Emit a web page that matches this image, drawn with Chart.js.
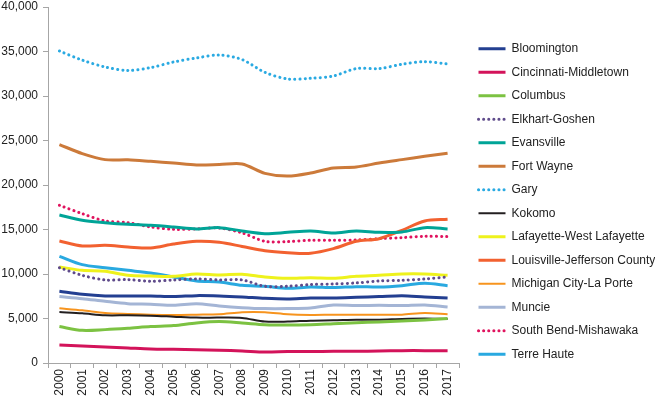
<!DOCTYPE html>
<html>
<head>
<meta charset="utf-8">
<script src="https://cdn.jsdelivr.net/npm/chart.js@4.4.1/dist/chart.umd.min.js"></script>
<style>
    html, body { margin: 0; padding: 0; background: #fff; }
    #wrap { width: 655px; height: 398px; }
</style>
</head>
<body>
<div id="wrap"><canvas id="wageChart"></canvas></div>
<script>
// Years on the x axis
const years = ['2000', '2001', '2002', '2003', '2004', '2005', '2006', '2007', '2008',
               '2009', '2010', '2011', '2012', '2013', '2014', '2015', '2016', '2017'];

// Series values
const bloomington  = [8060, 7720, 7530, 7530, 7530, 7460, 7570, 7530, 7420, 7270, 7200, 7310, 7310, 7380, 7460, 7570, 7420, 7310];
const cincinnati   = [2030, 1910, 1800, 1690, 1580, 1540, 1500, 1430, 1350, 1240, 1280, 1280, 1310, 1310, 1350, 1390, 1390, 1390];
const columbus     = [4090, 3670, 3750, 3900, 4090, 4200, 4500, 4650, 4500, 4310, 4270, 4310, 4420, 4530, 4610, 4720, 4840, 4990];
const elkhart      = [10710, 9850, 9330, 9370, 9180, 9330, 9440, 9330, 9330, 8620, 8620, 8810, 8880, 9000, 9220, 9290, 9440, 9670];
const evansville   = [16630, 16030, 15770, 15580, 15470, 15280, 15060, 15210, 14830, 14530, 14680, 14830, 14610, 14830, 14680, 14720, 15210, 15060];
const fortWayne    = [24540, 23530, 22850, 22830, 22660, 22470, 22250, 22290, 22360, 21310, 21010, 21350, 21910, 22020, 22470, 22850, 23220, 23560];
const gary         = [35060, 34030, 33260, 32870, 33190, 33820, 34270, 34610, 34090, 32660, 31910, 31990, 32250, 33080, 33080, 33560, 33860, 33600];
const kokomo       = [5730, 5580, 5360, 5360, 5320, 5210, 5100, 5100, 5060, 4650, 4650, 4760, 4800, 4870, 4870, 4950, 4990, 4950];
const lafayette    = [10790, 10410, 10300, 9850, 9780, 9740, 10000, 9890, 9970, 9670, 9520, 9590, 9520, 9740, 9850, 10000, 10000, 9850];
const louisville   = [13710, 13150, 13220, 13040, 12920, 13370, 13670, 13560, 13100, 12620, 12400, 12330, 12850, 13670, 13970, 14910, 15960, 16150];
const michiganCity = [6150, 5920, 5620, 5510, 5430, 5400, 5430, 5470, 5700, 5700, 5470, 5400, 5430, 5430, 5430, 5430, 5620, 5470];
const muncie       = [7460, 7230, 6930, 6670, 6600, 6480, 6670, 6410, 6220, 6110, 6110, 6180, 6520, 6450, 6480, 6450, 6520, 6300];
const southBend    = [17720, 16780, 15960, 15770, 15280, 15020, 15060, 15170, 14620, 13670, 13640, 13790, 13790, 13820, 13970, 14090, 14240, 14200];
const terreHaute   = [11990, 11050, 10710, 10410, 10110, 9670, 9220, 9100, 8730, 8620, 8390, 8540, 8470, 8580, 8540, 8690, 8960, 8690];

const yTicks = [0, 5000, 10000, 15000, 20000, 25000, 30000, 35000, 40000];

const FONT = '"Liberation Sans", Arial, Helvetica, sans-serif';
const AXIS_GREY = '#a6a6a6';

function solid(label, data, color, width) {
    return {
        label: label,
        data: data,
        borderColor: color,
        backgroundColor: color,
        borderWidth: width || 3,
        pointRadius: 0,
        pointStyle: 'line',
        tension: 0.3,
        fill: false
    };
}

function dotted(label, data, color) {
    return {
        label: label,
        data: data,
        borderColor: color,
        backgroundColor: color,
        borderWidth: 3,
        borderDash: [0.1, 5],
        borderCapStyle: 'round',
        pointRadius: 0,
        pointStyle: 'line',
        tension: 0.3,
        fill: false
    };
}

const datasets = [
    solid('Bloomington', bloomington, '#233f91'),
    solid('Cincinnati-Middletown', cincinnati, '#d3135a'),
    solid('Columbus', columbus, '#7cc242'),
    dotted('Elkhart-Goshen', elkhart, '#5f4b8b'),
    solid('Evansville', evansville, '#00a497'),
    solid('Fort Wayne', fortWayne, '#cc7a3a'),
    dotted('Gary', gary, '#2aaae2'),
    solid('Kokomo', kokomo, '#231f20', 2),
    solid('Lafayette-West Lafayette', lafayette, '#eef21c'),
    solid('Louisville-Jefferson County', louisville, '#f26130'),
    solid('Michigan City-La Porte', michiganCity, '#f7941e', 2),
    solid('Muncie', muncie, '#a4b5d5'),
    dotted('South Bend-Mishawaka', southBend, '#e0135e'),
    solid('Terre Haute', terreHaute, '#29a9e0')
];

// Legend sits at a fixed width and is nudged right to line up with the reference
const legendSpot = {
    id: 'legendSpot',
    beforeInit(chart) {
        const fit = chart.legend.fit;
        chart.legend.fit = function () {
            fit.call(this);
            this.width = 196;
        };
    },
    afterLayout(chart) {
        chart.legend.left += 8;
        chart.legend.right += 8;
        chart.legend.top -= 1;
        chart.legend.bottom -= 1;
    }
};

new Chart(document.getElementById('wageChart'), {
    type: 'line',
    data: { labels: years, datasets: datasets },
    plugins: [legendSpot],
    options: {
        responsive: true,
        maintainAspectRatio: false,
        animation: false,
        layout: { padding: { top: 7, right: 0, bottom: 0, left: 0 } },
        plugins: {
            legend: {
                position: 'right',
                labels: {
                    usePointStyle: true,
                    pointStyleWidth: 27,
                    padding: 11.5,
                    color: '#222',
                    font: { family: FONT, size: 12 },
                    // point-style items lose the dash, so copy it from the dataset
                    generateLabels(chart) {
                        const items = Chart.defaults.plugins.legend.labels.generateLabels(chart);
                        items.forEach(item => {
                            const ds = chart.data.datasets[item.datasetIndex];
                            item.lineDash = ds.borderDash || [];
                            item.lineCap = ds.borderCapStyle || 'butt';
                            item.lineWidth = ds.borderWidth;
                            item.strokeStyle = ds.borderColor;
                        });
                        return items;
                    }
                }
            },
            tooltip: { enabled: false }
        },
        scales: {
            x: {
                offset: true,
                grid: {
                    offset: true,
                    drawOnChartArea: false,
                    color: AXIS_GREY,
                    tickLength: 5
                },
                border: { color: AXIS_GREY },
                ticks: {
                    minRotation: 90,
                    maxRotation: 90,
                    padding: 1,
                    color: '#222',
                    font: { family: FONT, size: 12 }
                },
                afterFit(scale) { scale.height = 35; }
            },
            y: {
                min: 0,
                max: 40000,
                afterBuildTicks(scale) {
                    scale.ticks = yTicks.map(v => ({ value: v }));
                },
                grid: {
                    drawOnChartArea: false,
                    color: AXIS_GREY,
                    tickLength: 5
                },
                border: { color: AXIS_GREY },
                ticks: {
                    padding: 5,
                    color: '#222',
                    font: { family: FONT, size: 12 },
                    callback: function (value) {
                        return value.toLocaleString('en-US');
                    }
                },
                afterFit(scale) {
                    scale.width = 48;
                    scale.paddingTop = 0;
                    scale.paddingBottom = 0;
                }
            }
        }
    }
});
</script>
</body>
</html>
